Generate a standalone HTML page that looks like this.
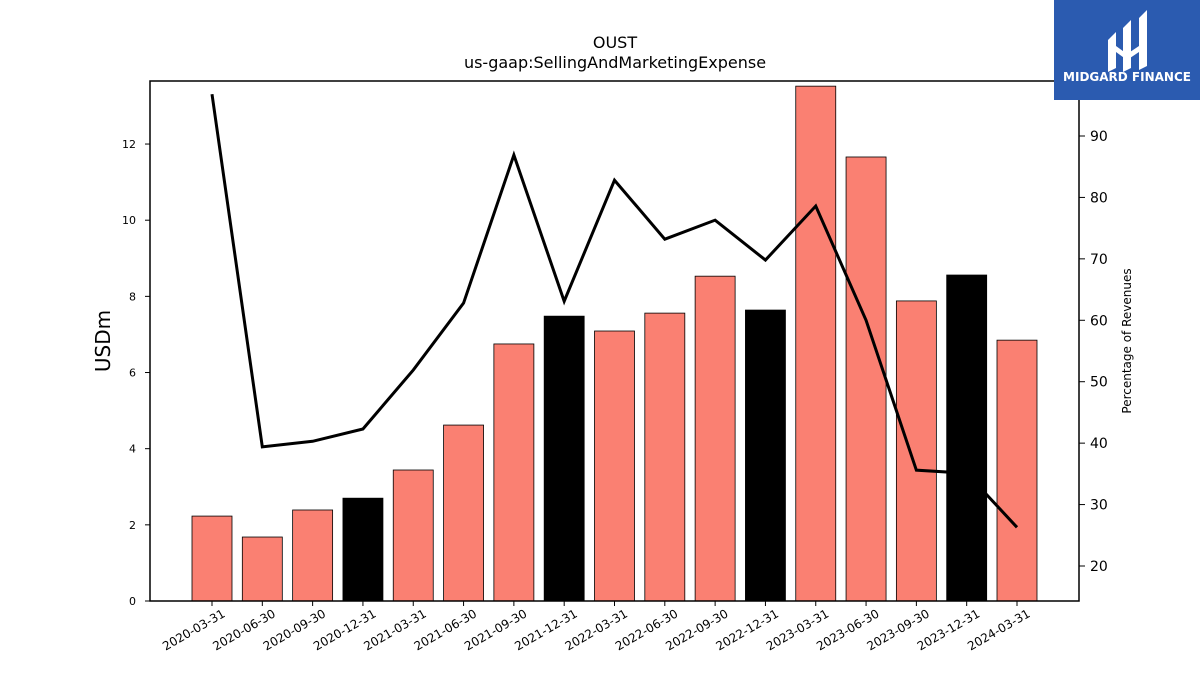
<!DOCTYPE html>
<html><head><meta charset="utf-8"><style>
body{margin:0;background:#fff;font-family:"Liberation Sans","DejaVu Sans",sans-serif}
svg text{font-family:"DejaVu Sans","Liberation Sans",sans-serif}
</style></head><body>
<svg id="c" width="1200" height="675" xmlns="http://www.w3.org/2000/svg">
<rect width="1200" height="675" fill="#fff"/>
<text x="615" y="48" text-anchor="middle" font-size="16">OUST</text>
<text x="615" y="68" text-anchor="middle" font-size="16">us-gaap:SellingAndMarketingExpense</text>
<g id="bars"></g><g id="xt"></g><g id="yl"></g><g id="yr"></g>
<path id="line" fill="none" stroke="#000" stroke-width="3"/>
<rect x="150" y="81" width="929" height="520" fill="none" stroke="#000" stroke-width="1.5"/>
<text transform="translate(110,341) rotate(-90)" text-anchor="middle" font-size="20">USDm</text>
<text transform="translate(1131,341) rotate(-90)" text-anchor="middle" font-size="12">Percentage of Revenues</text>
<g>
<rect x="1054" y="0" width="146" height="100" fill="#2b5bb0"/>
<path d="M1108 40 L1116 32 L1116 68 L1108 72 Z M1123 28 L1131 20 L1131 68 L1123 72 Z M1139 18 L1147 10 L1147 66 L1139 70 Z M1116 46 L1127 54 L1139 46 L1139 52 L1127 60 L1116 52 Z" fill="#fff"/>
<text x="1127" y="81" text-anchor="middle" font-size="12" font-weight="bold" fill="#fff" font-family="Liberation Sans">MIDGARD FINANCE</text>
</g>
</svg>
<script>
const categories=["2020-03-31","2020-06-30","2020-09-30","2020-12-31","2021-03-31","2021-06-30","2021-09-30","2021-12-31","2022-03-31","2022-06-30","2022-09-30","2022-12-31","2023-03-31","2023-06-30","2023-09-30","2023-12-31","2024-03-31"];
const expense=[2.23,1.68,2.39,2.70,3.44,4.62,6.75,7.48,7.09,7.56,8.53,7.64,13.52,11.66,7.88,8.56,6.85];
const pctRevenue=[96.8,39.4,40.3,42.3,51.9,62.8,86.9,63.1,82.8,73.2,76.3,69.8,78.6,60.0,35.6,35.1,26.3];
const leftTicks=[0,2,4,6,8,10,12];
const rightTicks=[20,30,40,50,60,70,80,90];
const NS="http://www.w3.org/2000/svg";
const xs=i=>212+i*50.3125;
const yl=v=>601-v*38.08;
const yr=v=>566-(v-20)*6.143;
function mk(t,a,p){const e=document.createElementNS(NS,t);for(const k in a)e.setAttribute(k,a[k]);p.appendChild(e);return e;}
const B=document.getElementById('bars'),XT=document.getElementById('xt'),YL=document.getElementById('yl'),YR=document.getElementById('yr');
categories.forEach((c,i)=>{
 const black=c.endsWith('12-31');
 const r=mk('rect',{x:xs(i)-20,y:yl(expense[i]),width:40,height:601-yl(expense[i]),fill:black?'#000':'#fa8072',stroke:'#000','stroke-width':0.8},B);
 
 
 mk('line',{x1:xs(i),x2:xs(i),y1:601,y2:606,stroke:'#000'},XT);
 const t=mk('text',{x:xs(i)+14,y:616,'text-anchor':'end','font-size':12,transform:`rotate(-30 ${xs(i)+14} 616)`},XT);
 t.textContent=c;
 
 
});
leftTicks.forEach(v=>{
 mk('line',{x1:145,x2:150,y1:yl(v),y2:yl(v),stroke:'#000'},YL);
 const t=mk('text',{x:136,y:yl(v)+4,'text-anchor':'end','font-size':11},YL);t.textContent=v;
 
 
});
rightTicks.forEach(v=>{
 mk('line',{x1:1079,x2:1085,y1:yr(v),y2:yr(v),stroke:'#000'},YR);
 const t=mk('text',{x:1090,y:yr(v)+5,'font-size':14},YR);t.textContent=v;
 
 
});
document.getElementById('line').setAttribute('d',pctRevenue.map((v,i)=>(i?'L':'M')+xs(i)+' '+yr(v)).join(' '));
</script>
</body></html>
